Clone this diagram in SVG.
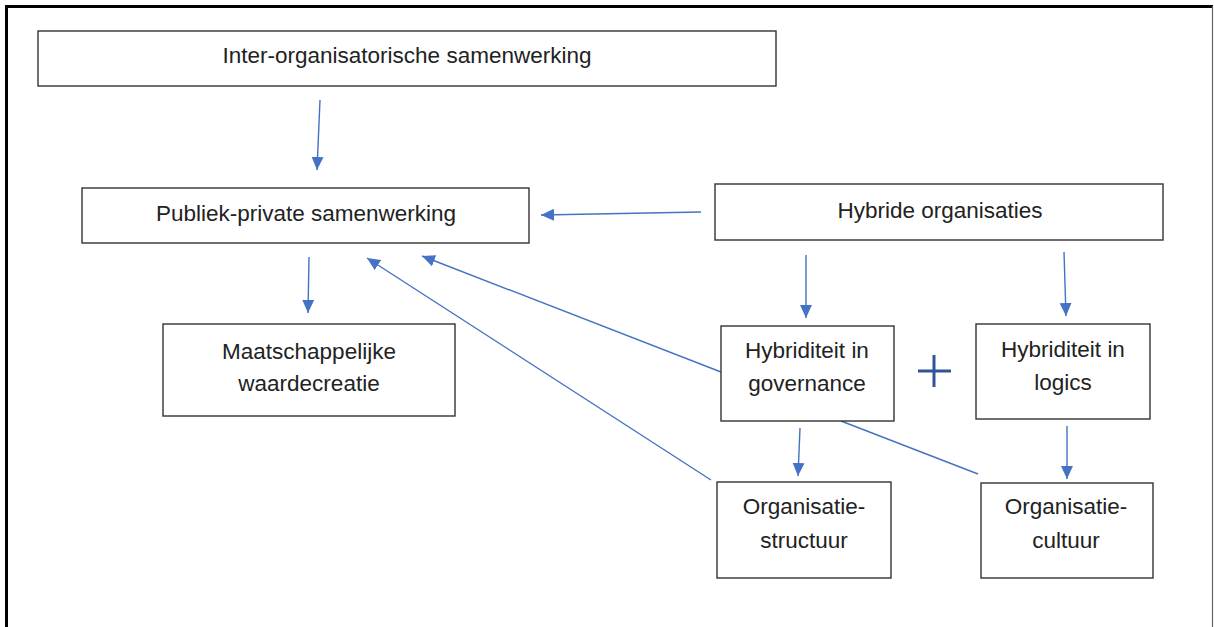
<svg xmlns="http://www.w3.org/2000/svg" width="1214" height="627" viewBox="0 0 1214 627">
<style>
.box{fill:#fff;stroke:#333;stroke-width:1.4}
.t{font-family:"Liberation Sans",Arial,sans-serif;font-size:22.5px;fill:#222;text-anchor:middle}
.c{stroke:#4472C4;stroke-width:1.4;fill:none}
</style>
<defs>
<marker id="ah" viewBox="0 0 12 12" refX="12" refY="6" markerWidth="13" markerHeight="13" markerUnits="userSpaceOnUse" orient="auto">
<path d="M0,0.5 L12,6 L0,11.5 Z" fill="#4472C4"/>
</marker>
</defs>
<rect width="1214" height="627" fill="#fff"/>
<g id="frame">
<path d="M6.5,627 L6.5,6.5 L1213,6.5" fill="none" stroke="#000" stroke-width="3"/>
<line x1="1212.5" y1="6" x2="1212.5" y2="627" stroke="#666" stroke-width="1.2"/>
</g>
<g id="connectors">
<line class="c" x1="320" y1="100" x2="317" y2="170" marker-end="url(#ah)"/>
<line class="c" x1="701" y1="212" x2="541" y2="215" marker-end="url(#ah)"/>
<line class="c" x1="309" y1="257" x2="308" y2="313" marker-end="url(#ah)"/>
<line class="c" x1="721" y1="372" x2="422" y2="256" marker-end="url(#ah)"/>
<line class="c" x1="711" y1="480" x2="367" y2="258" marker-end="url(#ah)"/>
<line class="c" x1="806" y1="255" x2="806" y2="318" marker-end="url(#ah)"/>
<line class="c" x1="1064" y1="252" x2="1066" y2="316" marker-end="url(#ah)"/>
<line class="c" x1="800" y1="428" x2="798" y2="476" marker-end="url(#ah)"/>
<line class="c" x1="841" y1="421" x2="978" y2="474"/>
<line class="c" x1="1067" y1="426" x2="1067" y2="479" marker-end="url(#ah)"/>
</g>
<g id="plus" stroke="#2F5597" stroke-width="3">
<line x1="918" y1="371" x2="951" y2="371"/>
<line x1="934" y1="355" x2="934" y2="387"/>
</g>
<g id="inter">
<rect class="box" x="38" y="31" width="738" height="55"/>
<text class="t" x="407" y="63">Inter-organisatorische samenwerking</text>
</g>
<g id="publiek">
<rect class="box" x="82" y="188" width="447" height="55"/>
<text class="t" x="306" y="221">Publiek-private samenwerking</text>
</g>
<g id="hybride">
<rect class="box" x="715" y="184" width="448" height="56"/>
<text class="t" x="940" y="218">Hybride organisaties</text>
</g>
<g id="maatschappelijk">
<rect class="box" x="163" y="324" width="292" height="92"/>
<text class="t" x="309" y="359">Maatschappelijke</text>
<text class="t" x="309" y="391">waardecreatie</text>
</g>
<g id="governance">
<rect class="box" x="721" y="326" width="173" height="95"/>
<text class="t" x="807" y="358">Hybriditeit in</text>
<text class="t" x="807" y="391">governance</text>
</g>
<g id="logics">
<rect class="box" x="976" y="324" width="174" height="95"/>
<text class="t" x="1063" y="357">Hybriditeit in</text>
<text class="t" x="1063" y="390">logics</text>
</g>
<g id="structuur">
<rect class="box" x="717" y="482" width="174" height="96"/>
<text class="t" x="804" y="514">Organisatie-</text>
<text class="t" x="804" y="548">structuur</text>
</g>
<g id="cultuur">
<rect class="box" x="981" y="483" width="172" height="95"/>
<text class="t" x="1066" y="514">Organisatie-</text>
<text class="t" x="1066" y="548">cultuur</text>
</g>
</svg>
